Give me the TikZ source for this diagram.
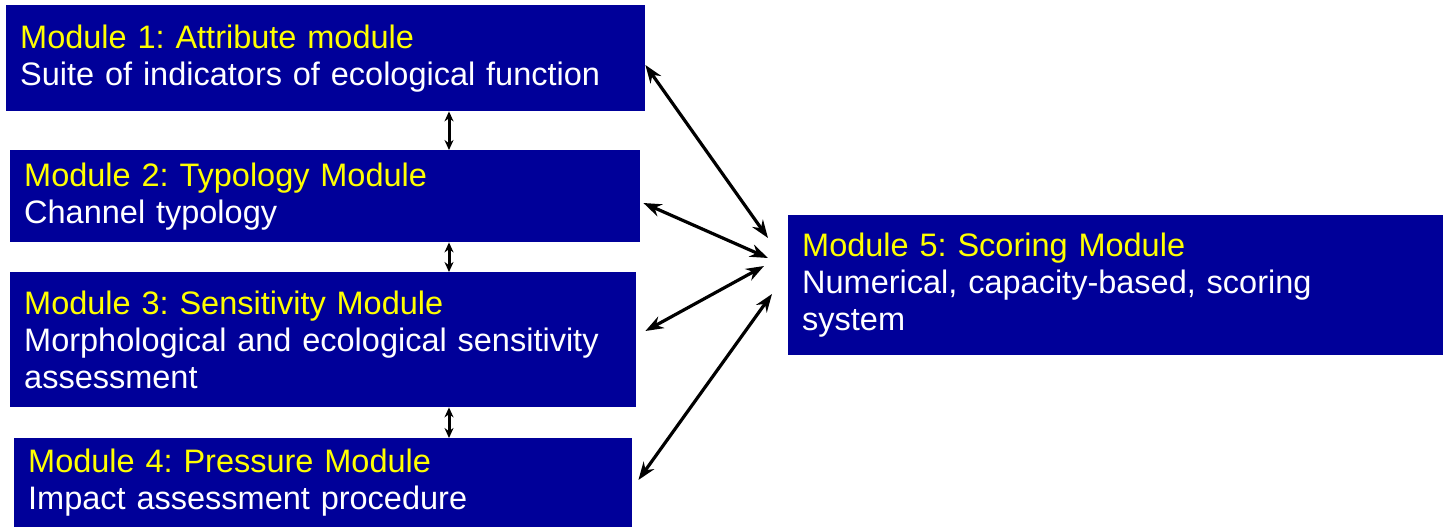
\documentclass[tikz,border=0pt]{standalone}
\usepackage{fontspec}
\setmainfont{Liberation Sans}
\usetikzlibrary{arrows.meta,positioning,calc}
\definecolor{modblue}{RGB}{0,0,153}
\definecolor{modyellow}{RGB}{255,255,0}
\frenchspacing

\begin{document}
\begin{tikzpicture}[
  x=1pt, y=-1pt,
  module/.style={fill=modblue, anchor=north west, inner xsep=14pt, inner ysep=0pt, align=left, text=white, font=\fontsize{32.5}{37}\selectfont},
  link/.style={{Stealth[length=18pt, width=13pt]}-{Stealth[length=18pt, width=13pt]}, line width=3.2pt},
  stack/.style={{Stealth[length=10pt, width=9pt]}-{Stealth[length=10pt, width=9pt]}, line width=3pt}
]
\useasboundingbox (0,0) rectangle (1443,527);

% Module boxes, left column
\node[module, minimum height=106pt, text width=611pt] (m1) at (6,5)
  {\textcolor{modyellow}{Module 1: Attribute module}\\Suite of indicators of ecological function};
\node[module, minimum height=92pt, text width=602pt] (m2) at (10,150)
  {\textcolor{modyellow}{Module 2: Typology Module}\\Channel typology};
\node[module, minimum height=135pt, text width=598pt] (m3) at (10,272)
  {\textcolor{modyellow}{Module 3: Sensitivity Module}\\Morphological and ecological sensitivity\\assessment};
\node[module, minimum height=89pt, text width=590pt] (m4) at (14,438)
  {\textcolor{modyellow}{Module 4: Pressure Module}\\Impact assessment procedure};

% Scoring module
\node[module, minimum height=140pt, text width=627pt] (m5) at (788,215)
  {\textcolor{modyellow}{Module 5: Scoring Module}\\Numerical, capacity-based, scoring\\system};

% arrow ends in front of the scoring module
\coordinate (e1) at (768,238);
\coordinate (e2) at (768,258);
\coordinate (e3) at (764,266);
\coordinate (e4) at (772,294);

% Arrows
\draw[stack] (m1.south -| 449,0) -- (m2.north -| 449,0);
\draw[stack] (m2.south -| 449,0) -- (m3.north -| 449,0);
\draw[stack] (m3.south -| 449,0) -- (m4.north -| 449,0);
\draw[link] ($(m1.north east)+(0,60)$) -- (e1);
\draw[link] ($(m2.north east)+(3,53)$) -- (e2);
\draw[link] ($(m3.north east)+(9,59)$) -- (e3);
\draw[link] ($(m4.north east)+(6,42)$) -- (e4);

\end{tikzpicture}
\end{document}
